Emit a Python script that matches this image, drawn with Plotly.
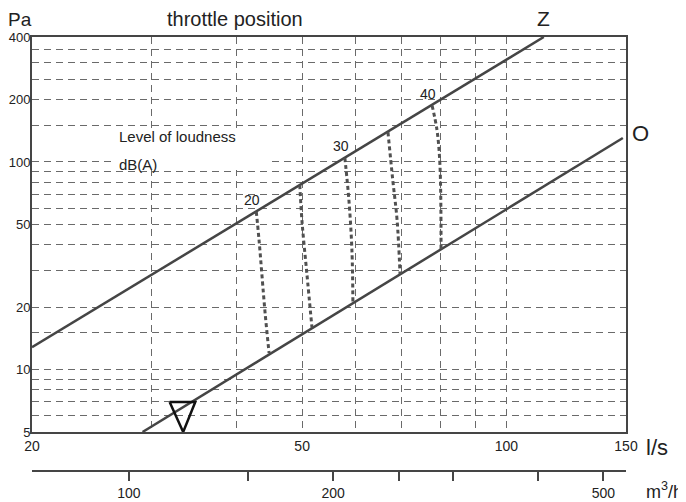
import math
import plotly.graph_objects as go

# throttle lines (flow l/s, pressure Pa)
flow_z = [20, 113.5]
dp_z = [12.8, 400]
flow_o = [29.1, 148.4]
dp_o = [5, 130.4]

# loudness contours dB(A), read top (Z) to bottom (O)
levels = [20, 25, 30, 35, 40]
lvl_flow = [
    [42.8, 43.2, 44.1, 44.7],
    [49.6, 50.0, 50.8, 51.7],
    [57.8, 58.6, 59.2, 59.4],
    [66.9, 68.0, 69.0, 69.7],
    [77.7, 79.0, 79.8, 80.1],
]
lvl_dp = [
    [57.6, 42.1, 18.7, 12.0],
    [77.4, 50.8, 29.2, 15.9],
    [104.6, 65.5, 37.6, 20.9],
    [139.0, 81.8, 52.5, 28.8],
    [187.0, 142.5, 96.6, 38.0],
]

# flow indicator triangle
tri_flow = [31.9, 34.8, 33.4, 31.9]
tri_dp = [6.97, 6.97, 5.0, 6.97]

x_grid = [20, 30, 40, 50, 60, 70, 80, 90, 100, 150]
x_labels = ["20", "", "", "50", "", "", "", "", "100", "150"]
y_grid = [5, 6, 7, 8, 9, 10, 15, 20, 30, 40, 50, 60, 70, 80, 90, 100, 150, 200, 250, 300, 350, 400]
y_labels = ["5", "", "", "", "", "10", "", "20", "", "", "50", "", "", "", "", "100", "", "200", "", "", "", "400"]
m3h_ticks = [100, 150, 200, 250, 300, 400, 500]
m3h_labels = ["100", "", "200", "", "", "", "500"]

FONT = "Liberation Sans, Arial, sans-serif"
LINE = "#454545"
TXT = "#222"

fig = go.Figure()

fig.add_trace(go.Scatter(x=flow_z, y=dp_z, mode="lines",
                         line=dict(color=LINE, width=2.5), hoverinfo="skip"))
fig.add_trace(go.Scatter(x=flow_o, y=dp_o, mode="lines",
                         line=dict(color=LINE, width=2.5), hoverinfo="skip"))

for lvl, fx, fy in zip(levels, lvl_flow, lvl_dp):
    fig.add_trace(go.Scatter(x=fx, y=fy, mode="lines",
                             line=dict(color="#505050", width=3, dash="4px,3px", shape="spline"),
                             hoverinfo="skip"))
    if lvl % 10 == 0:
        fig.add_annotation(x=math.log10(fx[0]), y=math.log10(fy[0]), xref="x", yref="y",
                           text=str(lvl), showarrow=False, xanchor="center", yanchor="bottom",
                           xshift=-4, yshift=2, font=dict(size=14, color=TXT, family=FONT))

fig.add_trace(go.Scatter(x=tri_flow, y=tri_dp, mode="lines",
                         line=dict(color="#111", width=2.5), hoverinfo="skip"))

# dummy trace so the m3/h axis is drawn
fig.add_trace(go.Scatter(x=[m3h_ticks[0], m3h_ticks[-1]], y=[5, 5], xaxis="x2",
                         mode="markers", marker=dict(size=1, opacity=0), hoverinfo="skip"))

# end labels of throttle lines
fig.add_annotation(x=math.log10(flow_z[-1]), y=math.log10(dp_z[-1]), text="Z", showarrow=False,
                   xanchor="center", yanchor="bottom", yshift=5,
                   font=dict(size=21, color=TXT, family=FONT))
fig.add_annotation(x=math.log10(flow_o[-1]), y=math.log10(dp_o[-1]), text="O", showarrow=False,
                   xanchor="left", yanchor="middle", xshift=7, yshift=5,
                   font=dict(size=22, color=TXT, family=FONT))

# white box behind loudness caption
fig.add_shape(type="rect", xref="x domain", yref="y domain", x0=0.136, x1=0.401, y0=0.663, y1=0.765,
              fillcolor="white", line=dict(width=0), layer="above")
fig.add_annotation(xref="x domain", yref="y domain", x=0.143, y=0.749, text="Level of loudness",
                   showarrow=False, xanchor="left", yanchor="middle",
                   font=dict(size=15, color=TXT, family=FONT))
fig.add_annotation(xref="x domain", yref="y domain", x=0.143, y=0.676, text="dB(A)",
                   showarrow=False, xanchor="left", yanchor="middle",
                   font=dict(size=15, color=TXT, family=FONT))

# axis titles
fig.add_annotation(xref="paper", yref="paper", x=-0.02, y=1.041, text="Pa", showarrow=False,
                   xanchor="center", yanchor="middle", font=dict(size=19, color=TXT, family=FONT))
fig.add_annotation(xref="paper", yref="paper", x=0.342, y=1.041, text="throttle position",
                   showarrow=False, xanchor="center", yanchor="middle",
                   font=dict(size=20, color=TXT, family=FONT))
fig.add_annotation(xref="paper", yref="paper", x=1.030, y=0.055, text="l/s", showarrow=False,
                   xanchor="left", yanchor="middle", font=dict(size=22, color=TXT, family=FONT))
fig.add_annotation(xref="paper", yref="paper", x=1.030, y=-0.044, text="m<sup>3</sup>/h",
                   showarrow=False, xanchor="left", yanchor="middle",
                   font=dict(size=18, color=TXT, family=FONT))

# the page body adds an 8px offset, so the figure is 8px smaller and margins shifted
grid_dash = "7px,5px"
fig.update_layout(
    width=678, height=494,
    margin=dict(l=24, r=60, t=29, b=31),
    paper_bgcolor="white", plot_bgcolor="white",
    showlegend=False,
    font=dict(family=FONT, size=14, color=TXT),
    xaxis=dict(type="log", range=[math.log10(20), math.log10(150)], automargin=False,
               tickvals=x_grid, ticktext=x_labels, ticks="",
               showgrid=True, gridcolor="#6a6a6a", gridwidth=1, griddash=grid_dash,
               showline=True, linecolor=LINE, linewidth=2, mirror=True, zeroline=False,
               tickfont=dict(size=14)),
    yaxis=dict(type="log", range=[math.log10(5), math.log10(400)], domain=[0.0899, 1],
               automargin=False, tickvals=y_grid, ticktext=y_labels, ticks="",
               ticklabelstandoff=-3,
               showgrid=True, gridcolor="#6a6a6a", gridwidth=1, griddash=grid_dash,
               showline=True, linecolor=LINE, linewidth=2, mirror=True, zeroline=False,
               tickfont=dict(size=13)),
    xaxis2=dict(type="log", range=[math.log10(72), math.log10(540)], overlaying="x",
                anchor="free", position=0, side="bottom", automargin=False,
                tickvals=m3h_ticks, ticktext=m3h_labels, ticks="outside", ticklen=9,
                tickwidth=2, tickcolor=LINE, showgrid=False, showline=True,
                linecolor=LINE, linewidth=2, zeroline=False, tickfont=dict(size=14)),
)

fig.write_html("out.html")
